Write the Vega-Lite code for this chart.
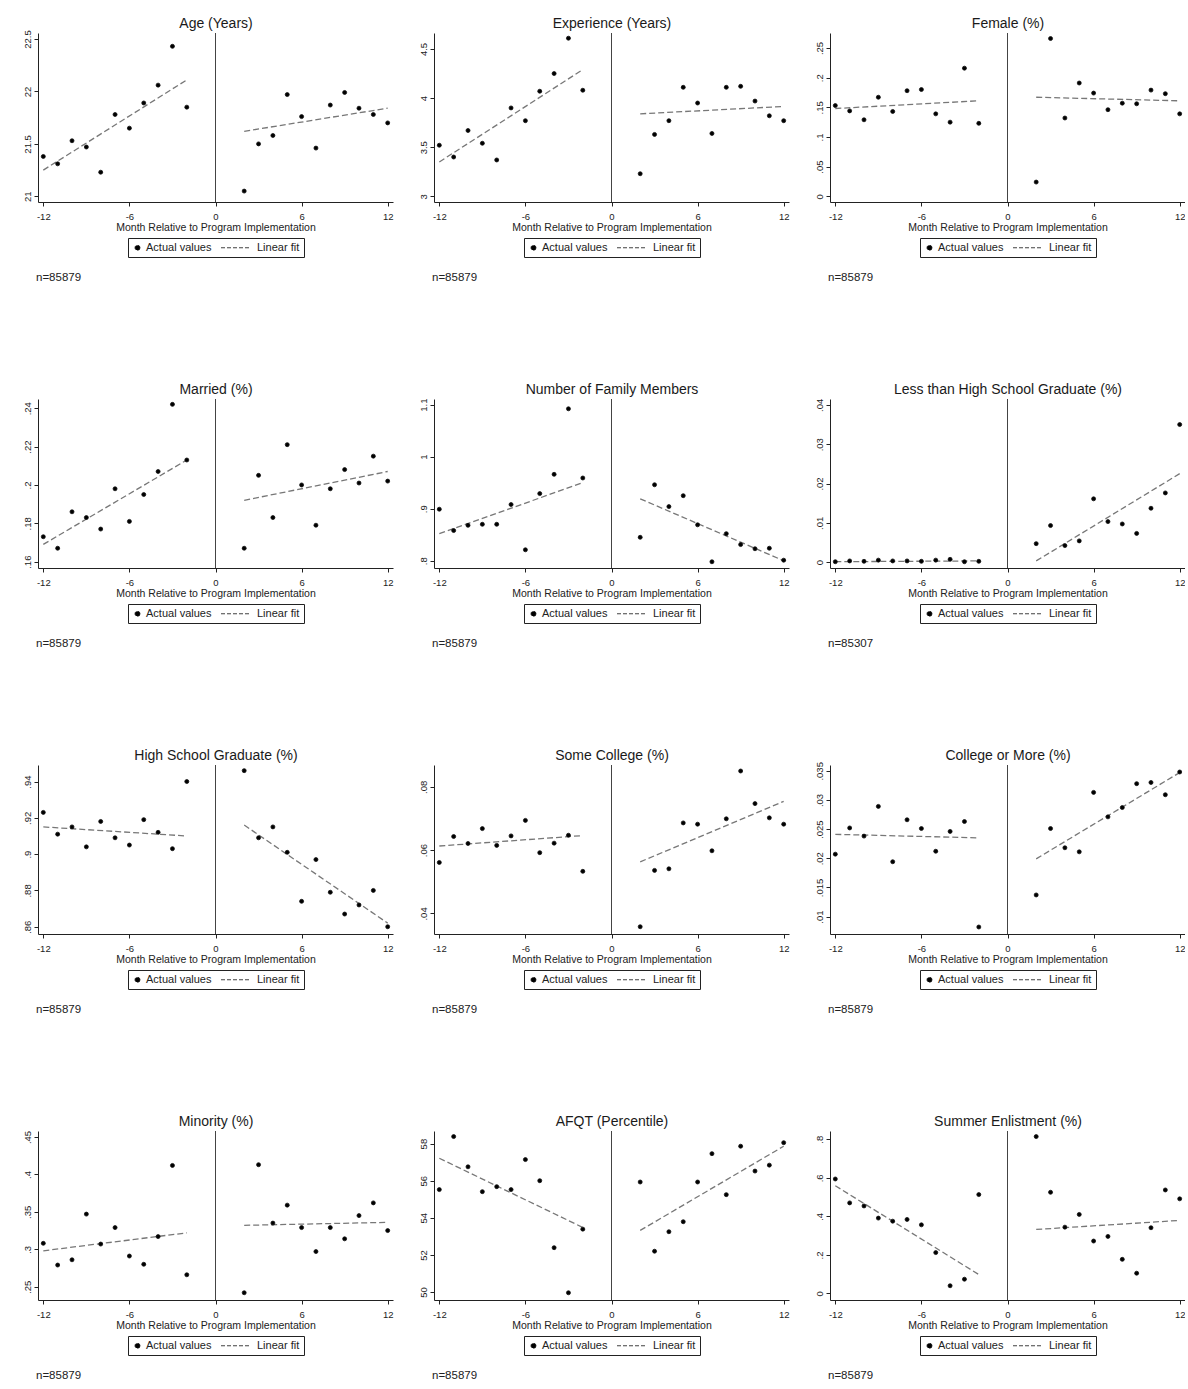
{
"$schema": "https://vega.github.io/schema/vega-lite/v6.json",
"padding": {"left": 21, "top": 16, "right": 0, "bottom": 0},
"background": "white",
"datasets": {
"pts": [
{"p":"age","m":-12,"v":21.38},{"p":"age","m":-11,"v":21.31},{"p":"age","m":-10,"v":21.53},{"p":"age","m":-9,"v":21.47},{"p":"age","m":-8,"v":21.23},{"p":"age","m":-7,"v":21.78},{"p":"age","m":-6,"v":21.65},{"p":"age","m":-5,"v":21.89},{"p":"age","m":-4,"v":22.06},{"p":"age","m":-3,"v":22.43},{"p":"age","m":-2,"v":21.85},
{"p":"age","m":2,"v":21.05},{"p":"age","m":3,"v":21.50},{"p":"age","m":4,"v":21.58},{"p":"age","m":5,"v":21.97},{"p":"age","m":6,"v":21.76},{"p":"age","m":7,"v":21.46},{"p":"age","m":8,"v":21.87},{"p":"age","m":9,"v":21.99},{"p":"age","m":10,"v":21.84},{"p":"age","m":11,"v":21.78},{"p":"age","m":12,"v":21.70},
{"p":"exp","m":-12,"v":3.52},{"p":"exp","m":-11,"v":3.40},{"p":"exp","m":-10,"v":3.67},{"p":"exp","m":-9,"v":3.54},{"p":"exp","m":-8,"v":3.37},{"p":"exp","m":-7,"v":3.90},{"p":"exp","m":-6,"v":3.77},{"p":"exp","m":-5,"v":4.07},{"p":"exp","m":-4,"v":4.25},{"p":"exp","m":-3,"v":4.61},{"p":"exp","m":-2,"v":4.08},
{"p":"exp","m":2,"v":3.23},{"p":"exp","m":3,"v":3.63},{"p":"exp","m":4,"v":3.77},{"p":"exp","m":5,"v":4.11},{"p":"exp","m":6,"v":3.95},{"p":"exp","m":7,"v":3.64},{"p":"exp","m":8,"v":4.11},{"p":"exp","m":9,"v":4.12},{"p":"exp","m":10,"v":3.97},{"p":"exp","m":11,"v":3.82},{"p":"exp","m":12,"v":3.77},
{"p":"fem","m":-12,"v":0.153},{"p":"fem","m":-11,"v":0.144},{"p":"fem","m":-10,"v":0.129},{"p":"fem","m":-9,"v":0.167},{"p":"fem","m":-8,"v":0.143},{"p":"fem","m":-7,"v":0.178},{"p":"fem","m":-6,"v":0.180},{"p":"fem","m":-5,"v":0.139},{"p":"fem","m":-4,"v":0.125},{"p":"fem","m":-3,"v":0.216},{"p":"fem","m":-2,"v":0.123},
{"p":"fem","m":2,"v":0.024},{"p":"fem","m":3,"v":0.266},{"p":"fem","m":4,"v":0.132},{"p":"fem","m":5,"v":0.191},{"p":"fem","m":6,"v":0.174},{"p":"fem","m":7,"v":0.146},{"p":"fem","m":8,"v":0.157},{"p":"fem","m":9,"v":0.156},{"p":"fem","m":10,"v":0.179},{"p":"fem","m":11,"v":0.173},{"p":"fem","m":12,"v":0.139},
{"p":"mar","m":-12,"v":0.173},{"p":"mar","m":-11,"v":0.167},{"p":"mar","m":-10,"v":0.186},{"p":"mar","m":-9,"v":0.183},{"p":"mar","m":-8,"v":0.177},{"p":"mar","m":-7,"v":0.198},{"p":"mar","m":-6,"v":0.181},{"p":"mar","m":-5,"v":0.195},{"p":"mar","m":-4,"v":0.207},{"p":"mar","m":-3,"v":0.242},{"p":"mar","m":-2,"v":0.213},
{"p":"mar","m":2,"v":0.167},{"p":"mar","m":3,"v":0.205},{"p":"mar","m":4,"v":0.183},{"p":"mar","m":5,"v":0.221},{"p":"mar","m":6,"v":0.200},{"p":"mar","m":7,"v":0.179},{"p":"mar","m":8,"v":0.198},{"p":"mar","m":9,"v":0.208},{"p":"mar","m":10,"v":0.201},{"p":"mar","m":11,"v":0.215},{"p":"mar","m":12,"v":0.202},
{"p":"fam","m":-12,"v":0.899},{"p":"fam","m":-11,"v":0.858},{"p":"fam","m":-10,"v":0.868},{"p":"fam","m":-9,"v":0.870},{"p":"fam","m":-8,"v":0.870},{"p":"fam","m":-7,"v":0.908},{"p":"fam","m":-6,"v":0.821},{"p":"fam","m":-5,"v":0.929},{"p":"fam","m":-4,"v":0.966},{"p":"fam","m":-3,"v":1.092},{"p":"fam","m":-2,"v":0.959},
{"p":"fam","m":2,"v":0.845},{"p":"fam","m":3,"v":0.946},{"p":"fam","m":4,"v":0.904},{"p":"fam","m":5,"v":0.925},{"p":"fam","m":6,"v":0.869},{"p":"fam","m":7,"v":0.798},{"p":"fam","m":8,"v":0.852},{"p":"fam","m":9,"v":0.831},{"p":"fam","m":10,"v":0.823},{"p":"fam","m":11,"v":0.824},{"p":"fam","m":12,"v":0.801},
{"p":"lhs","m":-12,"v":0.0001},{"p":"lhs","m":-11,"v":0.0003},{"p":"lhs","m":-10,"v":0.0002},{"p":"lhs","m":-9,"v":0.0005},{"p":"lhs","m":-8,"v":0.0003},{"p":"lhs","m":-7,"v":0.0003},{"p":"lhs","m":-6,"v":0.0002},{"p":"lhs","m":-5,"v":0.0005},{"p":"lhs","m":-4,"v":0.0007},{"p":"lhs","m":-3,"v":0.0001},{"p":"lhs","m":-2,"v":0.0002},
{"p":"lhs","m":2,"v":0.0047},{"p":"lhs","m":3,"v":0.0093},{"p":"lhs","m":4,"v":0.0042},{"p":"lhs","m":5,"v":0.0054},{"p":"lhs","m":6,"v":0.0161},{"p":"lhs","m":7,"v":0.0103},{"p":"lhs","m":8,"v":0.0097},{"p":"lhs","m":9,"v":0.0073},{"p":"lhs","m":10,"v":0.0137},{"p":"lhs","m":11,"v":0.0176},{"p":"lhs","m":12,"v":0.0350},
{"p":"hs","m":-12,"v":0.923},{"p":"hs","m":-11,"v":0.911},{"p":"hs","m":-10,"v":0.915},{"p":"hs","m":-9,"v":0.904},{"p":"hs","m":-8,"v":0.918},{"p":"hs","m":-7,"v":0.909},{"p":"hs","m":-6,"v":0.905},{"p":"hs","m":-5,"v":0.919},{"p":"hs","m":-4,"v":0.912},{"p":"hs","m":-3,"v":0.903},{"p":"hs","m":-2,"v":0.940},
{"p":"hs","m":2,"v":0.946},{"p":"hs","m":3,"v":0.909},{"p":"hs","m":4,"v":0.915},{"p":"hs","m":5,"v":0.901},{"p":"hs","m":6,"v":0.874},{"p":"hs","m":7,"v":0.897},{"p":"hs","m":8,"v":0.879},{"p":"hs","m":9,"v":0.867},{"p":"hs","m":10,"v":0.872},{"p":"hs","m":11,"v":0.880},{"p":"hs","m":12,"v":0.860},
{"p":"sc","m":-12,"v":0.0561},{"p":"sc","m":-11,"v":0.0643},{"p":"sc","m":-10,"v":0.0621},{"p":"sc","m":-9,"v":0.0668},{"p":"sc","m":-8,"v":0.0615},{"p":"sc","m":-7,"v":0.0645},{"p":"sc","m":-6,"v":0.0694},{"p":"sc","m":-5,"v":0.0592},{"p":"sc","m":-4,"v":0.0622},{"p":"sc","m":-3,"v":0.0647},{"p":"sc","m":-2,"v":0.0533},
{"p":"sc","m":2,"v":0.0358},{"p":"sc","m":3,"v":0.0536},{"p":"sc","m":4,"v":0.0541},{"p":"sc","m":5,"v":0.0686},{"p":"sc","m":6,"v":0.0682},{"p":"sc","m":7,"v":0.0598},{"p":"sc","m":8,"v":0.0699},{"p":"sc","m":9,"v":0.0850},{"p":"sc","m":10,"v":0.0747},{"p":"sc","m":11,"v":0.0702},{"p":"sc","m":12,"v":0.0682},
{"p":"col","m":-12,"v":0.0207},{"p":"col","m":-11,"v":0.0252},{"p":"col","m":-10,"v":0.0238},{"p":"col","m":-9,"v":0.0289},{"p":"col","m":-8,"v":0.0194},{"p":"col","m":-7,"v":0.0266},{"p":"col","m":-6,"v":0.0251},{"p":"col","m":-5,"v":0.0212},{"p":"col","m":-4,"v":0.0246},{"p":"col","m":-3,"v":0.0263},{"p":"col","m":-2,"v":0.0082},
{"p":"col","m":2,"v":0.0137},{"p":"col","m":3,"v":0.0251},{"p":"col","m":4,"v":0.0218},{"p":"col","m":5,"v":0.0211},{"p":"col","m":6,"v":0.0313},{"p":"col","m":7,"v":0.0271},{"p":"col","m":8,"v":0.0287},{"p":"col","m":9,"v":0.0328},{"p":"col","m":10,"v":0.0330},{"p":"col","m":11,"v":0.0309},{"p":"col","m":12,"v":0.0348},
{"p":"min","m":-12,"v":0.308},{"p":"min","m":-11,"v":0.279},{"p":"min","m":-10,"v":0.286},{"p":"min","m":-9,"v":0.347},{"p":"min","m":-8,"v":0.307},{"p":"min","m":-7,"v":0.329},{"p":"min","m":-6,"v":0.291},{"p":"min","m":-5,"v":0.280},{"p":"min","m":-4,"v":0.317},{"p":"min","m":-3,"v":0.412},{"p":"min","m":-2,"v":0.266},
{"p":"min","m":2,"v":0.242},{"p":"min","m":3,"v":0.413},{"p":"min","m":4,"v":0.335},{"p":"min","m":5,"v":0.359},{"p":"min","m":6,"v":0.329},{"p":"min","m":7,"v":0.297},{"p":"min","m":8,"v":0.329},{"p":"min","m":9,"v":0.314},{"p":"min","m":10,"v":0.345},{"p":"min","m":11,"v":0.362},{"p":"min","m":12,"v":0.325},
{"p":"afqt","m":-12,"v":55.52},{"p":"afqt","m":-11,"v":58.38},{"p":"afqt","m":-10,"v":56.75},{"p":"afqt","m":-9,"v":55.41},{"p":"afqt","m":-8,"v":55.68},{"p":"afqt","m":-7,"v":55.52},{"p":"afqt","m":-6,"v":57.14},{"p":"afqt","m":-5,"v":56.00},{"p":"afqt","m":-4,"v":52.39},{"p":"afqt","m":-3,"v":49.96},{"p":"afqt","m":-2,"v":53.39},
{"p":"afqt","m":2,"v":55.93},{"p":"afqt","m":3,"v":52.20},{"p":"afqt","m":4,"v":53.25},{"p":"afqt","m":5,"v":53.79},{"p":"afqt","m":6,"v":55.93},{"p":"afqt","m":7,"v":57.46},{"p":"afqt","m":8,"v":55.25},{"p":"afqt","m":9,"v":57.86},{"p":"afqt","m":10,"v":56.52},{"p":"afqt","m":11,"v":56.84},{"p":"afqt","m":12,"v":58.05},
{"p":"sum","m":-12,"v":0.594},{"p":"sum","m":-11,"v":0.470},{"p":"sum","m":-10,"v":0.454},{"p":"sum","m":-9,"v":0.391},{"p":"sum","m":-8,"v":0.375},{"p":"sum","m":-7,"v":0.384},{"p":"sum","m":-6,"v":0.356},{"p":"sum","m":-5,"v":0.212},{"p":"sum","m":-4,"v":0.040},{"p":"sum","m":-3,"v":0.074},{"p":"sum","m":-2,"v":0.513},
{"p":"sum","m":2,"v":0.814},{"p":"sum","m":3,"v":0.525},{"p":"sum","m":4,"v":0.344},{"p":"sum","m":5,"v":0.410},{"p":"sum","m":6,"v":0.272},{"p":"sum","m":7,"v":0.296},{"p":"sum","m":8,"v":0.177},{"p":"sum","m":9,"v":0.105},{"p":"sum","m":10,"v":0.341},{"p":"sum","m":11,"v":0.537},{"p":"sum","m":12,"v":0.491}
],
"fit": [
{"p":"age","g":"pre","m":-12,"v":21.25},{"p":"age","g":"pre","m":-2,"v":22.11},{"p":"age","g":"post","m":2,"v":21.62},{"p":"age","g":"post","m":12,"v":21.84},
{"p":"exp","g":"pre","m":-12,"v":3.35},{"p":"exp","g":"pre","m":-2,"v":4.29},{"p":"exp","g":"post","m":2,"v":3.84},{"p":"exp","g":"post","m":12,"v":3.915},
{"p":"fem","g":"pre","m":-12,"v":0.148},{"p":"fem","g":"pre","m":-2,"v":0.161},{"p":"fem","g":"post","m":2,"v":0.167},{"p":"fem","g":"post","m":12,"v":0.161},
{"p":"mar","g":"pre","m":-12,"v":0.169},{"p":"mar","g":"pre","m":-2,"v":0.213},{"p":"mar","g":"post","m":2,"v":0.192},{"p":"mar","g":"post","m":12,"v":0.207},
{"p":"fam","g":"pre","m":-12,"v":0.852},{"p":"fam","g":"pre","m":-2,"v":0.950},{"p":"fam","g":"post","m":2,"v":0.919},{"p":"fam","g":"post","m":12,"v":0.800},
{"p":"lhs","g":"pre","m":-12,"v":0.0001},{"p":"lhs","g":"pre","m":-2,"v":0.0003},{"p":"lhs","g":"post","m":2,"v":0.0003},{"p":"lhs","g":"post","m":12,"v":0.0225},
{"p":"hs","g":"pre","m":-12,"v":0.915},{"p":"hs","g":"pre","m":-2,"v":0.910},{"p":"hs","g":"post","m":2,"v":0.916},{"p":"hs","g":"post","m":12,"v":0.862},
{"p":"sc","g":"pre","m":-12,"v":0.0613},{"p":"sc","g":"pre","m":-2,"v":0.0646},{"p":"sc","g":"post","m":2,"v":0.0563},{"p":"sc","g":"post","m":12,"v":0.0754},
{"p":"col","g":"pre","m":-12,"v":0.0241},{"p":"col","g":"pre","m":-2,"v":0.0235},{"p":"col","g":"post","m":2,"v":0.0199},{"p":"col","g":"post","m":12,"v":0.0347},
{"p":"min","g":"pre","m":-12,"v":0.298},{"p":"min","g":"pre","m":-2,"v":0.322},{"p":"min","g":"post","m":2,"v":0.332},{"p":"min","g":"post","m":12,"v":0.336},
{"p":"afqt","g":"pre","m":-12,"v":57.21},{"p":"afqt","g":"pre","m":-2,"v":53.48},{"p":"afqt","g":"post","m":2,"v":53.32},{"p":"afqt","g":"post","m":12,"v":57.86},
{"p":"sum","g":"pre","m":-12,"v":0.559},{"p":"sum","g":"pre","m":-2,"v":0.098},{"p":"sum","g":"post","m":2,"v":0.332},{"p":"sum","g":"post","m":12,"v":0.379}
]
},
"config": {
"font": "Liberation Sans",
"view": {"stroke": null},
"point": {"filled": true, "color": "black", "stroke": "#111", "strokeWidth": 0.8, "size": 16, "opacity": 1},
"axis": {"grid": false, "domainColor": "#222", "tickColor": "#222", "labelColor": "#222", "titleColor": "#222", "labelFont": "Liberation Sans", "titleFont": "Liberation Sans", "labelFontSize": 9.5, "titleFontSize": 10.5, "titleFontWeight": "normal", "tickSize": 4, "domainWidth": 1, "tickWidth": 1},
"axisY": {"labelAngle": 270, "labelAlign": "center", "labelBaseline": "bottom", "labelPadding": 2, "labelExpr": "datum.value > 0 && datum.value < 1 ? substring(format(datum.value, '~g'), 1) : format(datum.value, '~g')"},
"axisBottom": {"labelPadding": 5, "titlePadding": 2, "labelExpr": "datum.value + ''"},
"axisTop": {"titleFontSize": 14, "titlePadding": 3, "titleColor": "#1a1a1a"},
"legend": {"orient": "bottom", "direction": "horizontal", "strokeColor": "#222", "padding": 4, "labelFontSize": 11, "labelFont": "Liberation Sans", "labelColor": "#222", "symbolSize": 25, "symbolDash": [4, 2], "symbolStrokeWidth": 0.9, "offset": 5, "columnPadding": 7, "labelOffset": 3, "layout": {"bottom": {"anchor": "middle"}}},
"title": {"orient": "bottom", "anchor": "start", "fontSize": 11.5, "fontWeight": "normal", "font": "Liberation Sans", "color": "#222", "offset": 14, "dx": -2, "frame": "group"}
},
"bounds": "flush",
"spacing": 366,
"resolve": {"scale": {"shape": "independent"}, "legend": {"shape": "independent"}},
"vconcat": [
{"hconcat": [
{"width": 355, "height": 169, "title": "n=85879", "resolve": {"axis": {"x": "independent"}},
"layer": [
{"data": {"values": [{"m": 0}]}, "mark": {"type": "rule", "color": "#444", "strokeWidth": 1}, "encoding": {"x": {"field": "m", "type": "quantitative", "scale": {"domain": [-12.37, 12.37], "nice": false}, "axis": {"orient": "top", "title": "Age (Years)", "labels": false, "ticks": false, "domain": false}}}},
{"data": {"name": "fit"}, "transform": [{"filter": "datum.p === 'age'"}], "mark": {"type": "line", "color": "#777", "strokeDash": [6, 3], "strokeWidth": 1.3}, "encoding": {"x": {"field": "m", "type": "quantitative", "scale": {"domain": [-12.37, 12.37], "nice": false}, "axis": null}, "y": {"field": "v", "type": "quantitative", "scale": {"domain": [20.946, 22.557], "nice": false, "zero": false}, "axis": {"values": [21, 21.5, 22, 22.5], "title": null}}, "detail": {"field": "g"}}},
{"data": {"name": "pts"}, "transform": [{"filter": "datum.p === 'age'"}], "mark": "point", "encoding": {"x": {"field": "m", "type": "quantitative", "scale": {"domain": [-12.37, 12.37], "nice": false}, "axis": {"values": [-12, -6, 0, 6, 12], "title": "Month Relative to Program Implementation"}}, "y": {"field": "v", "type": "quantitative", "scale": {"domain": [20.946, 22.557], "nice": false, "zero": false}, "axis": {"values": [21, 21.5, 22, 22.5], "title": null}}, "shape": {"datum": "Actual values", "scale": {"domain": ["Actual values", "Linear fit"], "range": ["circle", "M-11,0H0.4"]}, "legend": {"title": null}}}}
]},
{"width": 355, "height": 169, "title": "n=85879", "resolve": {"axis": {"x": "independent"}},
"layer": [
{"data": {"values": [{"m": 0}]}, "mark": {"type": "rule", "color": "#444", "strokeWidth": 1}, "encoding": {"x": {"field": "m", "type": "quantitative", "scale": {"domain": [-12.37, 12.37], "nice": false}, "axis": {"orient": "top", "title": "Experience (Years)", "labels": false, "ticks": false, "domain": false}}}},
{"data": {"name": "fit"}, "transform": [{"filter": "datum.p === 'exp'"}], "mark": {"type": "line", "color": "#777", "strokeDash": [6, 3], "strokeWidth": 1.3}, "encoding": {"x": {"field": "m", "type": "quantitative", "scale": {"domain": [-12.37, 12.37], "nice": false}, "axis": null}, "y": {"field": "v", "type": "quantitative", "scale": {"domain": [2.942, 4.663], "nice": false, "zero": false}, "axis": {"values": [3, 3.5, 4, 4.5], "title": null}}, "detail": {"field": "g"}}},
{"data": {"name": "pts"}, "transform": [{"filter": "datum.p === 'exp'"}], "mark": "point", "encoding": {"x": {"field": "m", "type": "quantitative", "scale": {"domain": [-12.37, 12.37], "nice": false}, "axis": {"values": [-12, -6, 0, 6, 12], "title": "Month Relative to Program Implementation"}}, "y": {"field": "v", "type": "quantitative", "scale": {"domain": [2.942, 4.663], "nice": false, "zero": false}, "axis": {"values": [3, 3.5, 4, 4.5], "title": null}}, "shape": {"datum": "Actual values", "scale": {"domain": ["Actual values", "Linear fit"], "range": ["circle", "M-11,0H0.4"]}, "legend": {"title": null}}}}
]},
{"width": 355, "height": 169, "title": "n=85879", "resolve": {"axis": {"x": "independent"}},
"layer": [
{"data": {"values": [{"m": 0}]}, "mark": {"type": "rule", "color": "#444", "strokeWidth": 1}, "encoding": {"x": {"field": "m", "type": "quantitative", "scale": {"domain": [-12.37, 12.37], "nice": false}, "axis": {"orient": "top", "title": "Female (%)", "labels": false, "ticks": false, "domain": false}}}},
{"data": {"name": "fit"}, "transform": [{"filter": "datum.p === 'fem'"}], "mark": {"type": "line", "color": "#777", "strokeDash": [6, 3], "strokeWidth": 1.3}, "encoding": {"x": {"field": "m", "type": "quantitative", "scale": {"domain": [-12.37, 12.37], "nice": false}, "axis": null}, "y": {"field": "v", "type": "quantitative", "scale": {"domain": [-0.0096, 0.2753], "nice": false, "zero": false}, "axis": {"values": [0, 0.05, 0.1, 0.15, 0.2, 0.25], "title": null}}, "detail": {"field": "g"}}},
{"data": {"name": "pts"}, "transform": [{"filter": "datum.p === 'fem'"}], "mark": "point", "encoding": {"x": {"field": "m", "type": "quantitative", "scale": {"domain": [-12.37, 12.37], "nice": false}, "axis": {"values": [-12, -6, 0, 6, 12], "title": "Month Relative to Program Implementation"}}, "y": {"field": "v", "type": "quantitative", "scale": {"domain": [-0.0096, 0.2753], "nice": false, "zero": false}, "axis": {"values": [0, 0.05, 0.1, 0.15, 0.2, 0.25], "title": null}}, "shape": {"datum": "Actual values", "scale": {"domain": ["Actual values", "Linear fit"], "range": ["circle", "M-11,0H0.4"]}, "legend": {"title": null}}}}
]}
], "spacing": 41, "bounds": "flush", "resolve": {"scale": {"shape": "independent"}, "legend": {"shape": "independent"}}},
{"hconcat": [
{"width": 355, "height": 169, "title": "n=85879", "resolve": {"axis": {"x": "independent"}},
"layer": [
{"data": {"values": [{"m": 0}]}, "mark": {"type": "rule", "color": "#444", "strokeWidth": 1}, "encoding": {"x": {"field": "m", "type": "quantitative", "scale": {"domain": [-12.37, 12.37], "nice": false}, "axis": {"orient": "top", "title": "Married (%)", "labels": false, "ticks": false, "domain": false}}}},
{"data": {"name": "fit"}, "transform": [{"filter": "datum.p === 'mar'"}], "mark": {"type": "line", "color": "#777", "strokeDash": [6, 3], "strokeWidth": 1.3}, "encoding": {"x": {"field": "m", "type": "quantitative", "scale": {"domain": [-12.37, 12.37], "nice": false}, "axis": null}, "y": {"field": "v", "type": "quantitative", "scale": {"domain": [0.1567, 0.2448], "nice": false, "zero": false}, "axis": {"values": [0.16, 0.18, 0.2, 0.22, 0.24], "title": null}}, "detail": {"field": "g"}}},
{"data": {"name": "pts"}, "transform": [{"filter": "datum.p === 'mar'"}], "mark": "point", "encoding": {"x": {"field": "m", "type": "quantitative", "scale": {"domain": [-12.37, 12.37], "nice": false}, "axis": {"values": [-12, -6, 0, 6, 12], "title": "Month Relative to Program Implementation"}}, "y": {"field": "v", "type": "quantitative", "scale": {"domain": [0.1567, 0.2448], "nice": false, "zero": false}, "axis": {"values": [0.16, 0.18, 0.2, 0.22, 0.24], "title": null}}, "shape": {"datum": "Actual values", "scale": {"domain": ["Actual values", "Linear fit"], "range": ["circle", "M-11,0H0.4"]}, "legend": {"title": null}}}}
]},
{"width": 355, "height": 169, "title": "n=85879", "resolve": {"axis": {"x": "independent"}},
"layer": [
{"data": {"values": [{"m": 0}]}, "mark": {"type": "rule", "color": "#444", "strokeWidth": 1}, "encoding": {"x": {"field": "m", "type": "quantitative", "scale": {"domain": [-12.37, 12.37], "nice": false}, "axis": {"orient": "top", "title": "Number of Family Members", "labels": false, "ticks": false, "domain": false}}}},
{"data": {"name": "fit"}, "transform": [{"filter": "datum.p === 'fam'"}], "mark": {"type": "line", "color": "#777", "strokeDash": [6, 3], "strokeWidth": 1.3}, "encoding": {"x": {"field": "m", "type": "quantitative", "scale": {"domain": [-12.37, 12.37], "nice": false}, "axis": null}, "y": {"field": "v", "type": "quantitative", "scale": {"domain": [0.786, 1.1108], "nice": false, "zero": false}, "axis": {"values": [0.8, 0.9, 1, 1.1], "title": null}}, "detail": {"field": "g"}}},
{"data": {"name": "pts"}, "transform": [{"filter": "datum.p === 'fam'"}], "mark": "point", "encoding": {"x": {"field": "m", "type": "quantitative", "scale": {"domain": [-12.37, 12.37], "nice": false}, "axis": {"values": [-12, -6, 0, 6, 12], "title": "Month Relative to Program Implementation"}}, "y": {"field": "v", "type": "quantitative", "scale": {"domain": [0.786, 1.1108], "nice": false, "zero": false}, "axis": {"values": [0.8, 0.9, 1, 1.1], "title": null}}, "shape": {"datum": "Actual values", "scale": {"domain": ["Actual values", "Linear fit"], "range": ["circle", "M-11,0H0.4"]}, "legend": {"title": null}}}}
]},
{"width": 355, "height": 169, "title": "n=85307", "resolve": {"axis": {"x": "independent"}},
"layer": [
{"data": {"values": [{"m": 0}]}, "mark": {"type": "rule", "color": "#444", "strokeWidth": 1}, "encoding": {"x": {"field": "m", "type": "quantitative", "scale": {"domain": [-12.37, 12.37], "nice": false}, "axis": {"orient": "top", "title": "Less than High School Graduate (%)", "labels": false, "ticks": false, "domain": false}}}},
{"data": {"name": "fit"}, "transform": [{"filter": "datum.p === 'lhs'"}], "mark": {"type": "line", "color": "#777", "strokeDash": [6, 3], "strokeWidth": 1.3}, "encoding": {"x": {"field": "m", "type": "quantitative", "scale": {"domain": [-12.37, 12.37], "nice": false}, "axis": null}, "y": {"field": "v", "type": "quantitative", "scale": {"domain": [-0.0015, 0.0415], "nice": false, "zero": false}, "axis": {"values": [0, 0.01, 0.02, 0.03, 0.04], "title": null}}, "detail": {"field": "g"}}},
{"data": {"name": "pts"}, "transform": [{"filter": "datum.p === 'lhs'"}], "mark": "point", "encoding": {"x": {"field": "m", "type": "quantitative", "scale": {"domain": [-12.37, 12.37], "nice": false}, "axis": {"values": [-12, -6, 0, 6, 12], "title": "Month Relative to Program Implementation"}}, "y": {"field": "v", "type": "quantitative", "scale": {"domain": [-0.0015, 0.0415], "nice": false, "zero": false}, "axis": {"values": [0, 0.01, 0.02, 0.03, 0.04], "title": null}}, "shape": {"datum": "Actual values", "scale": {"domain": ["Actual values", "Linear fit"], "range": ["circle", "M-11,0H0.4"]}, "legend": {"title": null}}}}
]}
], "spacing": 41, "bounds": "flush", "resolve": {"scale": {"shape": "independent"}, "legend": {"shape": "independent"}}},
{"hconcat": [
{"width": 355, "height": 169, "title": "n=85879", "resolve": {"axis": {"x": "independent"}},
"layer": [
{"data": {"values": [{"m": 0}]}, "mark": {"type": "rule", "color": "#444", "strokeWidth": 1}, "encoding": {"x": {"field": "m", "type": "quantitative", "scale": {"domain": [-12.37, 12.37], "nice": false}, "axis": {"orient": "top", "title": "High School Graduate (%)", "labels": false, "ticks": false, "domain": false}}}},
{"data": {"name": "fit"}, "transform": [{"filter": "datum.p === 'hs'"}], "mark": {"type": "line", "color": "#777", "strokeDash": [6, 3], "strokeWidth": 1.3}, "encoding": {"x": {"field": "m", "type": "quantitative", "scale": {"domain": [-12.37, 12.37], "nice": false}, "axis": null}, "y": {"field": "v", "type": "quantitative", "scale": {"domain": [0.856, 0.9491], "nice": false, "zero": false}, "axis": {"values": [0.86, 0.88, 0.9, 0.92, 0.94], "title": null}}, "detail": {"field": "g"}}},
{"data": {"name": "pts"}, "transform": [{"filter": "datum.p === 'hs'"}], "mark": "point", "encoding": {"x": {"field": "m", "type": "quantitative", "scale": {"domain": [-12.37, 12.37], "nice": false}, "axis": {"values": [-12, -6, 0, 6, 12], "title": "Month Relative to Program Implementation"}}, "y": {"field": "v", "type": "quantitative", "scale": {"domain": [0.856, 0.9491], "nice": false, "zero": false}, "axis": {"values": [0.86, 0.88, 0.9, 0.92, 0.94], "title": null}}, "shape": {"datum": "Actual values", "scale": {"domain": ["Actual values", "Linear fit"], "range": ["circle", "M-11,0H0.4"]}, "legend": {"title": null}}}}
]},
{"width": 355, "height": 169, "title": "n=85879", "resolve": {"axis": {"x": "independent"}},
"layer": [
{"data": {"values": [{"m": 0}]}, "mark": {"type": "rule", "color": "#444", "strokeWidth": 1}, "encoding": {"x": {"field": "m", "type": "quantitative", "scale": {"domain": [-12.37, 12.37], "nice": false}, "axis": {"orient": "top", "title": "Some College (%)", "labels": false, "ticks": false, "domain": false}}}},
{"data": {"name": "fit"}, "transform": [{"filter": "datum.p === 'sc'"}], "mark": {"type": "line", "color": "#777", "strokeDash": [6, 3], "strokeWidth": 1.3}, "encoding": {"x": {"field": "m", "type": "quantitative", "scale": {"domain": [-12.37, 12.37], "nice": false}, "axis": null}, "y": {"field": "v", "type": "quantitative", "scale": {"domain": [0.0335, 0.0869], "nice": false, "zero": false}, "axis": {"values": [0.04, 0.06, 0.08], "title": null}}, "detail": {"field": "g"}}},
{"data": {"name": "pts"}, "transform": [{"filter": "datum.p === 'sc'"}], "mark": "point", "encoding": {"x": {"field": "m", "type": "quantitative", "scale": {"domain": [-12.37, 12.37], "nice": false}, "axis": {"values": [-12, -6, 0, 6, 12], "title": "Month Relative to Program Implementation"}}, "y": {"field": "v", "type": "quantitative", "scale": {"domain": [0.0335, 0.0869], "nice": false, "zero": false}, "axis": {"values": [0.04, 0.06, 0.08], "title": null}}, "shape": {"datum": "Actual values", "scale": {"domain": ["Actual values", "Linear fit"], "range": ["circle", "M-11,0H0.4"]}, "legend": {"title": null}}}}
]},
{"width": 355, "height": 169, "title": "n=85879", "resolve": {"axis": {"x": "independent"}},
"layer": [
{"data": {"values": [{"m": 0}]}, "mark": {"type": "rule", "color": "#444", "strokeWidth": 1}, "encoding": {"x": {"field": "m", "type": "quantitative", "scale": {"domain": [-12.37, 12.37], "nice": false}, "axis": {"orient": "top", "title": "College or More (%)", "labels": false, "ticks": false, "domain": false}}}},
{"data": {"name": "fit"}, "transform": [{"filter": "datum.p === 'col'"}], "mark": {"type": "line", "color": "#777", "strokeDash": [6, 3], "strokeWidth": 1.3}, "encoding": {"x": {"field": "m", "type": "quantitative", "scale": {"domain": [-12.37, 12.37], "nice": false}, "axis": null}, "y": {"field": "v", "type": "quantitative", "scale": {"domain": [0.007, 0.036], "nice": false, "zero": false}, "axis": {"values": [0.01, 0.015, 0.02, 0.025, 0.03, 0.035], "title": null}}, "detail": {"field": "g"}}},
{"data": {"name": "pts"}, "transform": [{"filter": "datum.p === 'col'"}], "mark": "point", "encoding": {"x": {"field": "m", "type": "quantitative", "scale": {"domain": [-12.37, 12.37], "nice": false}, "axis": {"values": [-12, -6, 0, 6, 12], "title": "Month Relative to Program Implementation"}}, "y": {"field": "v", "type": "quantitative", "scale": {"domain": [0.007, 0.036], "nice": false, "zero": false}, "axis": {"values": [0.01, 0.015, 0.02, 0.025, 0.03, 0.035], "title": null}}, "shape": {"datum": "Actual values", "scale": {"domain": ["Actual values", "Linear fit"], "range": ["circle", "M-11,0H0.4"]}, "legend": {"title": null}}}}
]}
], "spacing": 41, "bounds": "flush", "resolve": {"scale": {"shape": "independent"}, "legend": {"shape": "independent"}}},
{"hconcat": [
{"width": 355, "height": 169, "title": "n=85879", "resolve": {"axis": {"x": "independent"}},
"layer": [
{"data": {"values": [{"m": 0}]}, "mark": {"type": "rule", "color": "#444", "strokeWidth": 1}, "encoding": {"x": {"field": "m", "type": "quantitative", "scale": {"domain": [-12.37, 12.37], "nice": false}, "axis": {"orient": "top", "title": "Minority (%)", "labels": false, "ticks": false, "domain": false}}}},
{"data": {"name": "fit"}, "transform": [{"filter": "datum.p === 'min'"}], "mark": {"type": "line", "color": "#777", "strokeDash": [6, 3], "strokeWidth": 1.3}, "encoding": {"x": {"field": "m", "type": "quantitative", "scale": {"domain": [-12.37, 12.37], "nice": false}, "axis": null}, "y": {"field": "v", "type": "quantitative", "scale": {"domain": [0.2323, 0.458], "nice": false, "zero": false}, "axis": {"values": [0.25, 0.3, 0.35, 0.4, 0.45], "title": null}}, "detail": {"field": "g"}}},
{"data": {"name": "pts"}, "transform": [{"filter": "datum.p === 'min'"}], "mark": "point", "encoding": {"x": {"field": "m", "type": "quantitative", "scale": {"domain": [-12.37, 12.37], "nice": false}, "axis": {"values": [-12, -6, 0, 6, 12], "title": "Month Relative to Program Implementation"}}, "y": {"field": "v", "type": "quantitative", "scale": {"domain": [0.2323, 0.458], "nice": false, "zero": false}, "axis": {"values": [0.25, 0.3, 0.35, 0.4, 0.45], "title": null}}, "shape": {"datum": "Actual values", "scale": {"domain": ["Actual values", "Linear fit"], "range": ["circle", "M-11,0H0.4"]}, "legend": {"title": null}}}}
]},
{"width": 355, "height": 169, "title": "n=85879", "resolve": {"axis": {"x": "independent"}},
"layer": [
{"data": {"values": [{"m": 0}]}, "mark": {"type": "rule", "color": "#444", "strokeWidth": 1}, "encoding": {"x": {"field": "m", "type": "quantitative", "scale": {"domain": [-12.37, 12.37], "nice": false}, "axis": {"orient": "top", "title": "AFQT (Percentile)", "labels": false, "ticks": false, "domain": false}}}},
{"data": {"name": "fit"}, "transform": [{"filter": "datum.p === 'afqt'"}], "mark": {"type": "line", "color": "#777", "strokeDash": [6, 3], "strokeWidth": 1.3}, "encoding": {"x": {"field": "m", "type": "quantitative", "scale": {"domain": [-12.37, 12.37], "nice": false}, "axis": null}, "y": {"field": "v", "type": "quantitative", "scale": {"domain": [49.57, 58.68], "nice": false, "zero": false}, "axis": {"values": [50, 52, 54, 56, 58], "title": null}}, "detail": {"field": "g"}}},
{"data": {"name": "pts"}, "transform": [{"filter": "datum.p === 'afqt'"}], "mark": "point", "encoding": {"x": {"field": "m", "type": "quantitative", "scale": {"domain": [-12.37, 12.37], "nice": false}, "axis": {"values": [-12, -6, 0, 6, 12], "title": "Month Relative to Program Implementation"}}, "y": {"field": "v", "type": "quantitative", "scale": {"domain": [49.57, 58.68], "nice": false, "zero": false}, "axis": {"values": [50, 52, 54, 56, 58], "title": null}}, "shape": {"datum": "Actual values", "scale": {"domain": ["Actual values", "Linear fit"], "range": ["circle", "M-11,0H0.4"]}, "legend": {"title": null}}}}
]},
{"width": 355, "height": 169, "title": "n=85879", "resolve": {"axis": {"x": "independent"}},
"layer": [
{"data": {"values": [{"m": 0}]}, "mark": {"type": "rule", "color": "#444", "strokeWidth": 1}, "encoding": {"x": {"field": "m", "type": "quantitative", "scale": {"domain": [-12.37, 12.37], "nice": false}, "axis": {"orient": "top", "title": "Summer Enlistment (%)", "labels": false, "ticks": false, "domain": false}}}},
{"data": {"name": "fit"}, "transform": [{"filter": "datum.p === 'sum'"}], "mark": {"type": "line", "color": "#777", "strokeDash": [6, 3], "strokeWidth": 1.3}, "encoding": {"x": {"field": "m", "type": "quantitative", "scale": {"domain": [-12.37, 12.37], "nice": false}, "axis": null}, "y": {"field": "v", "type": "quantitative", "scale": {"domain": [-0.034, 0.843], "nice": false, "zero": false}, "axis": {"values": [0, 0.2, 0.4, 0.6, 0.8], "title": null}}, "detail": {"field": "g"}}},
{"data": {"name": "pts"}, "transform": [{"filter": "datum.p === 'sum'"}], "mark": "point", "encoding": {"x": {"field": "m", "type": "quantitative", "scale": {"domain": [-12.37, 12.37], "nice": false}, "axis": {"values": [-12, -6, 0, 6, 12], "title": "Month Relative to Program Implementation"}}, "y": {"field": "v", "type": "quantitative", "scale": {"domain": [-0.034, 0.843], "nice": false, "zero": false}, "axis": {"values": [0, 0.2, 0.4, 0.6, 0.8], "title": null}}, "shape": {"datum": "Actual values", "scale": {"domain": ["Actual values", "Linear fit"], "range": ["circle", "M-11,0H0.4"]}, "legend": {"title": null}}}}
]}
], "spacing": 41, "bounds": "flush", "resolve": {"scale": {"shape": "independent"}, "legend": {"shape": "independent"}}}
]
}
